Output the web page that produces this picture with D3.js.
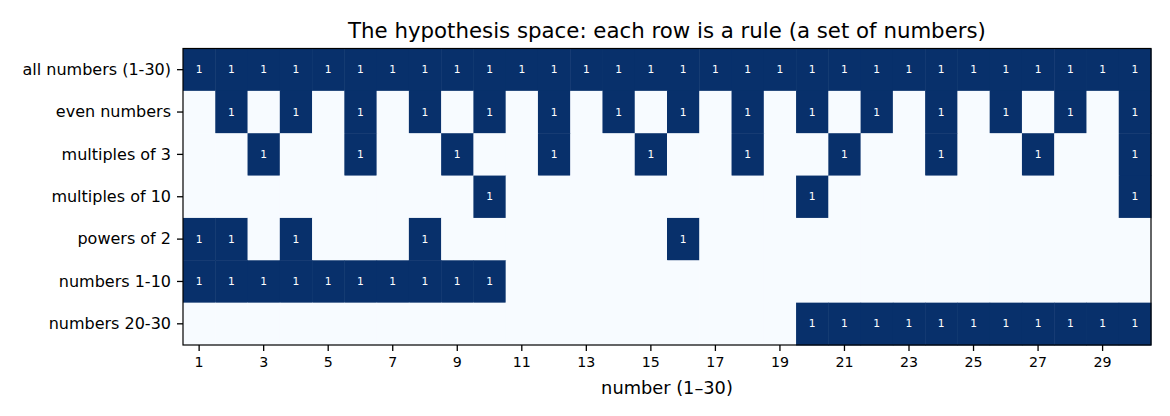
<!DOCTYPE html>
<html><head><meta charset="utf-8">
<script src="https://cdn.jsdelivr.net/npm/d3@7"></script>
<style>body{margin:0;background:#fff;font-family:"DejaVu Sans",sans-serif;}</style>
</head><body><svg id="c" width="1170" height="416"></svg>
<script>
const numbers = d3.range(1, 31);
const rules = ["all numbers (1-30)", "even numbers", "multiples of 3", "multiples of 10", "powers of 2", "numbers 1-10", "numbers 20-30"];
const members = [
  [1,2,3,4,5,6,7,8,9,10,11,12,13,14,15,16,17,18,19,20,21,22,23,24,25,26,27,28,29,30],
  [2,4,6,8,10,12,14,16,18,20,22,24,26,28,30],
  [3,6,9,12,15,18,21,24,27,30],
  [10,20,30],
  [1,2,4,8,16],
  [1,2,3,4,5,6,7,8,9,10],
  [20,21,22,23,24,25,26,27,28,29,30]
];
const xTicks = [1,3,5,7,9,11,13,15,17,19,21,23,25,27,29];
const title = "The hypothesis space: each row is a rule (a set of numbers)";
const xLabel = "number (1–30)";

const svg = d3.select("#c");
const L = 183, R = 1151, T = 48.5, B = 345;
const x = d3.scaleBand().domain(numbers).range([L, R]).padding(0);
const y = d3.scaleBand().domain(rules).range([T, B]).padding(0);
const color = d3.scaleSequential(d3.interpolateBlues).domain([0, 1]);

const cells = [];
rules.forEach((r, i) => numbers.forEach(n => cells.push({r, n, v: members[i].includes(n) ? 1 : 0})));

svg.append("g").selectAll("rect").data(cells).join("rect")
  .attr("x", d => x(d.n)).attr("y", d => y(d.r))
  .attr("width", x.bandwidth() + 0.5).attr("height", y.bandwidth() + 0.5)
  .attr("fill", d => color(d.v));

svg.append("g").selectAll("text").data(cells.filter(d => d.v === 1)).join("text")
  .attr("x", d => x(d.n) + x.bandwidth() / 2)
  .attr("y", d => y(d.r) + y.bandwidth() / 2)
  .attr("text-anchor", "middle").attr("dominant-baseline", "central")
  .attr("fill", "#fff").style("font-size", "10.7px")
  .text(d => d.v);

svg.append("rect").attr("x", L).attr("y", T).attr("width", R - L).attr("height", B - T)
  .attr("fill", "none").attr("stroke", "#000").attr("stroke-width", 1.2);

const xAxis = svg.append("g").attr("transform", `translate(0,${B})`)
  .call(d3.axisBottom(x).tickValues(xTicks).tickSize(6).tickPadding(5.5));
xAxis.select(".domain").remove();
xAxis.selectAll("line").attr("stroke-width", 1.3);
xAxis.selectAll("text").style("font-size", "14.2px").style("font-family", "DejaVu Sans").attr("fill", "#000");

const yAxis = svg.append("g").attr("transform", `translate(${L},0)`)
  .call(d3.axisLeft(y).tickSize(6).tickPadding(6));
yAxis.select(".domain").remove();
yAxis.selectAll("line").attr("stroke-width", 1.3);
yAxis.selectAll("text").style("font-size", "16px").style("font-family", "DejaVu Sans").attr("fill", "#000");

svg.append("text").attr("x", (L + R) / 2).attr("y", 38).attr("text-anchor", "middle")
  .style("font-size", "21.3px").text(title);
svg.append("text").attr("x", (L + R) / 2).attr("y", 393.5).attr("text-anchor", "middle")
  .style("font-size", "17.8px").text(xLabel);
</script></body></html>
